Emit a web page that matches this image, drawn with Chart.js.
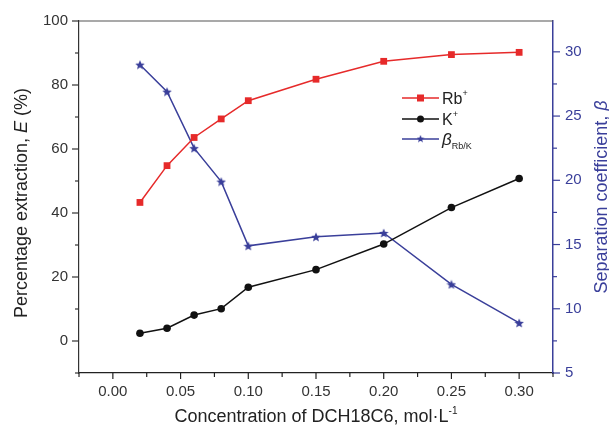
<!DOCTYPE html>
<html>
<head>
<meta charset="utf-8">
<title>DCH18C6 extraction</title>
<script src="https://cdn.jsdelivr.net/npm/chart.js@4"></script>
<style>
  html, body { margin: 0; padding: 0; background: #fff; }
  #wrap { width: 609px; height: 432px; position: relative; }
</style>
</head>
<body>
<div id="wrap"><canvas id="extraction-chart" width="609" height="432"></canvas></div>
<script>
// concentration of DCH18C6, mol/L
const conc = [0.02, 0.04, 0.06, 0.08, 0.10, 0.15, 0.20, 0.25, 0.30];
// extraction percentage E (%)
const rbExtraction = [43.3, 54.8, 63.6, 69.4, 75.1, 81.8, 87.4, 89.5, 90.2];
const kExtraction = [2.4, 4.0, 8.1, 10.1, 16.8, 22.3, 30.3, 41.7, 50.8];
// separation coefficient beta Rb/K
const betaRbK = [29.0, 26.9, 22.5, 19.9, 14.9, 15.6, 15.9, 11.9, 8.9];

// tick labels
const xTicks = [0.00, 0.05, 0.10, 0.15, 0.20, 0.25, 0.30];
const xMinor = [-0.025, 0.025, 0.075, 0.125, 0.175, 0.225, 0.275, 0.325];
const yTicks = [0, 20, 40, 60, 80, 100];
const yMinor = [-10, 10, 30, 50, 70, 90];
const betaTicks = [5, 10, 15, 20, 25, 30];
const betaMinor = [7.5, 12.5, 17.5, 22.5, 27.5];

const RED = '#e62a2a';
const BLACK = '#111111';
const BLUE = '#3a3f9a';
const FONT = '"Liberation Sans", Arial, sans-serif';

function toPoints(ys) {
    return conc.map((x, i) => ({ x: x, y: ys[i] }));
}

// filled five-point star used as point marker
function makeStar(size, color) {
    const c = document.createElement('canvas');
    c.width = size;
    c.height = size;
    const g = c.getContext('2d');
    const cx = size / 2, cy = size / 2 + 0.5;
    const outer = size / 2, inner = outer * 0.45;
    g.beginPath();
    for (let i = 0; i < 10; i++) {
        const r = i % 2 === 0 ? outer : inner;
        const a = -Math.PI / 2 + i * Math.PI / 5;
        const px = cx + r * Math.cos(a), py = cy + r * Math.sin(a);
        if (i === 0) g.moveTo(px, py); else g.lineTo(px, py);
    }
    g.closePath();
    g.fillStyle = color;
    g.fill();
    return c;
}
const starImg = makeStar(10, BLUE);

// text with an optional small raised or lowered part
function drawRich(ctx, parts, x, y) {
    let cx = x;
    parts.forEach(p => {
        ctx.font = p.font;
        ctx.fillStyle = p.color;
        ctx.fillText(p.text, cx, y + (p.dy || 0));
        cx += ctx.measureText(p.text).width;
    });
    return cx - x;
}
function richWidth(ctx, parts) {
    let w = 0;
    parts.forEach(p => { ctx.font = p.font; w += ctx.measureText(p.text).width; });
    return w;
}

const decorPlugin = {
    id: 'decor',
    afterDraw(chart) {
        const ctx = chart.ctx;
        const a = chart.chartArea;
        const sx = chart.scales.x, sy = chart.scales.y, sb = chart.scales.beta;
        ctx.save();

        // top frame line
        ctx.strokeStyle = '#555';
        ctx.lineWidth = 1.2;
        ctx.beginPath();
        ctx.moveTo(a.left, a.top);
        ctx.lineTo(a.right, a.top);
        ctx.stroke();

        // tick marks, pointing outward
        function tickX(vals, len) {
            ctx.strokeStyle = '#222';
            ctx.lineWidth = 1.2;
            vals.forEach(v => {
                const px = sx.getPixelForValue(v);
                ctx.beginPath();
                ctx.moveTo(px, a.bottom);
                ctx.lineTo(px, a.bottom + len);
                ctx.stroke();
            });
        }
        function tickY(scale, vals, len, side, color) {
            ctx.strokeStyle = color;
            ctx.lineWidth = 1.2;
            vals.forEach(v => {
                const py = scale.getPixelForValue(v);
                const x0 = side < 0 ? a.left : a.right;
                ctx.beginPath();
                ctx.moveTo(x0, py);
                ctx.lineTo(x0 + side * len, py);
                ctx.stroke();
            });
        }
        tickX(xTicks, 6);
        tickX(xMinor, 4);
        tickY(sy, yTicks, 7, -1, '#333');
        tickY(sy, yMinor, 4, -1, '#333');
        tickY(sb, betaTicks, 7, 1, BLUE);
        tickY(sb, betaMinor, 4, 1, BLUE);

        ctx.textBaseline = 'alphabetic';
        const tf = '18px ' + FONT;
        const tfi = 'italic 18px ' + FONT;
        const sup = '10px ' + FONT;

        // x axis title
        const xTitle = [
            { text: 'Concentration of DCH18C6, mol\u00b7L', font: tf, color: '#222' },
            { text: '-1', font: sup, color: '#222', dy: -8 }
        ];
        const xw = richWidth(ctx, xTitle);
        drawRich(ctx, xTitle, (a.left + a.right) / 2 - xw / 2, 422);

        // left axis title
        const yTitle = [
            { text: 'Percentage extraction, ', font: tf, color: '#222' },
            { text: 'E', font: tfi, color: '#222' },
            { text: ' (%)', font: tf, color: '#222' }
        ];
        const yw = richWidth(ctx, yTitle);
        ctx.save();
        ctx.translate(27, 203);
        ctx.rotate(-Math.PI / 2);
        drawRich(ctx, yTitle, -yw / 2, 0);
        ctx.restore();

        // right axis title
        const bTitle = [
            { text: 'Separation coefficient, ', font: tf, color: BLUE },
            { text: '\u03b2', font: tfi, color: BLUE }
        ];
        const bw = richWidth(ctx, bTitle);
        ctx.save();
        ctx.translate(607, 197);
        ctx.rotate(-Math.PI / 2);
        drawRich(ctx, bTitle, -bw / 2, 0);
        ctx.restore();

        // legend
        const lx0 = 402, lx1 = 439, tx = 442;
        const rows = [
            { y: 98, color: RED, marker: 'rect',
              label: [{ text: 'Rb', font: '16px ' + FONT, color: '#222' },
                      { text: '+', font: '9px ' + FONT, color: '#222', dy: -8 }] },
            { y: 119, color: BLACK, marker: 'circle',
              label: [{ text: 'K', font: '16px ' + FONT, color: '#222' },
                      { text: '+', font: '9px ' + FONT, color: '#222', dy: -8 }] },
            { y: 139, color: BLUE, marker: 'star',
              label: [{ text: '\u03b2', font: 'italic 17px ' + FONT, color: '#222' },
                      { text: 'Rb/K', font: '9px ' + FONT, color: '#222', dy: 4 }] }
        ];
        rows.forEach(r => {
            ctx.strokeStyle = r.color;
            ctx.lineWidth = 1.5;
            ctx.beginPath();
            ctx.moveTo(lx0, r.y);
            ctx.lineTo(lx1, r.y);
            ctx.stroke();
            const mx = (lx0 + lx1) / 2;
            ctx.fillStyle = r.color;
            if (r.marker === 'rect') {
                ctx.fillRect(mx - 3.5, r.y - 3.5, 7, 7);
            } else if (r.marker === 'circle') {
                ctx.beginPath();
                ctx.arc(mx, r.y, 3.5, 0, Math.PI * 2);
                ctx.fill();
            } else {
                ctx.drawImage(starImg, mx - 4, r.y - 4.5, 8, 8);
            }
            drawRich(ctx, r.label, tx, r.y + 6);
        });

        ctx.restore();
    }
};

const ctx = document.getElementById('extraction-chart').getContext('2d');

const chart = new Chart(ctx, {
    type: 'line',
    data: {
        datasets: [
            {
                label: 'Rb+',
                data: toPoints(rbExtraction),
                yAxisID: 'y',
                borderColor: RED,
                backgroundColor: RED,
                borderWidth: 1.5,
                pointStyle: 'rect',
                pointRadius: 4.8,
                pointBorderWidth: 0,
                tension: 0
            },
            {
                label: 'K+',
                data: toPoints(kExtraction),
                yAxisID: 'y',
                borderColor: BLACK,
                backgroundColor: BLACK,
                borderWidth: 1.5,
                pointStyle: 'circle',
                pointRadius: 3.8,
                pointBorderWidth: 0,
                tension: 0
            },
            {
                label: 'beta Rb/K',
                data: toPoints(betaRbK),
                yAxisID: 'beta',
                borderColor: BLUE,
                backgroundColor: BLUE,
                borderWidth: 1.5,
                pointStyle: starImg,
                pointRadius: 5,
                tension: 0
            }
        ]
    },
    options: {
        responsive: false,
        animation: false,
        layout: { padding: { top: 20, left: 0, right: 0, bottom: 0 } },
        plugins: {
            legend: { display: false },
            tooltip: { enabled: false }
        },
        scales: {
            x: {
                type: 'linear',
                position: 'bottom',
                min: -0.025,
                max: 0.325,
                afterBuildTicks: s => { s.ticks = xTicks.map(v => ({ value: v })); },
                afterFit: s => { s.height = 59; },
                grid: { display: false, drawTicks: false },
                border: { display: true, color: '#222', width: 1.2 },
                ticks: {
                    padding: 10,
                    color: '#333',
                    font: { family: FONT, size: 15 },
                    maxRotation: 0,
                    callback: v => v.toFixed(2)
                }
            },
            y: {
                type: 'linear',
                position: 'left',
                min: -10,
                max: 100,
                afterBuildTicks: s => { s.ticks = yTicks.map(v => ({ value: v })); },
                afterFit: s => { s.width = 79; },
                grid: { display: false, drawTicks: false },
                border: { display: true, color: '#333', width: 1.2 },
                ticks: {
                    padding: 11,
                    color: '#333',
                    font: { family: FONT, size: 15 }
                }
            },
            beta: {
                type: 'linear',
                position: 'right',
                min: 5,
                max: 32.4,
                afterBuildTicks: s => { s.ticks = betaTicks.map(v => ({ value: v })); },
                afterFit: s => { s.width = 56; },
                grid: { display: false, drawTicks: false },
                border: { display: true, color: BLUE, width: 1.5 },
                ticks: {
                    padding: 12,
                    color: BLUE,
                    font: { family: FONT, size: 15 }
                }
            }
        }
    },
    plugins: [decorPlugin]
});
</script>
</body>
</html>
